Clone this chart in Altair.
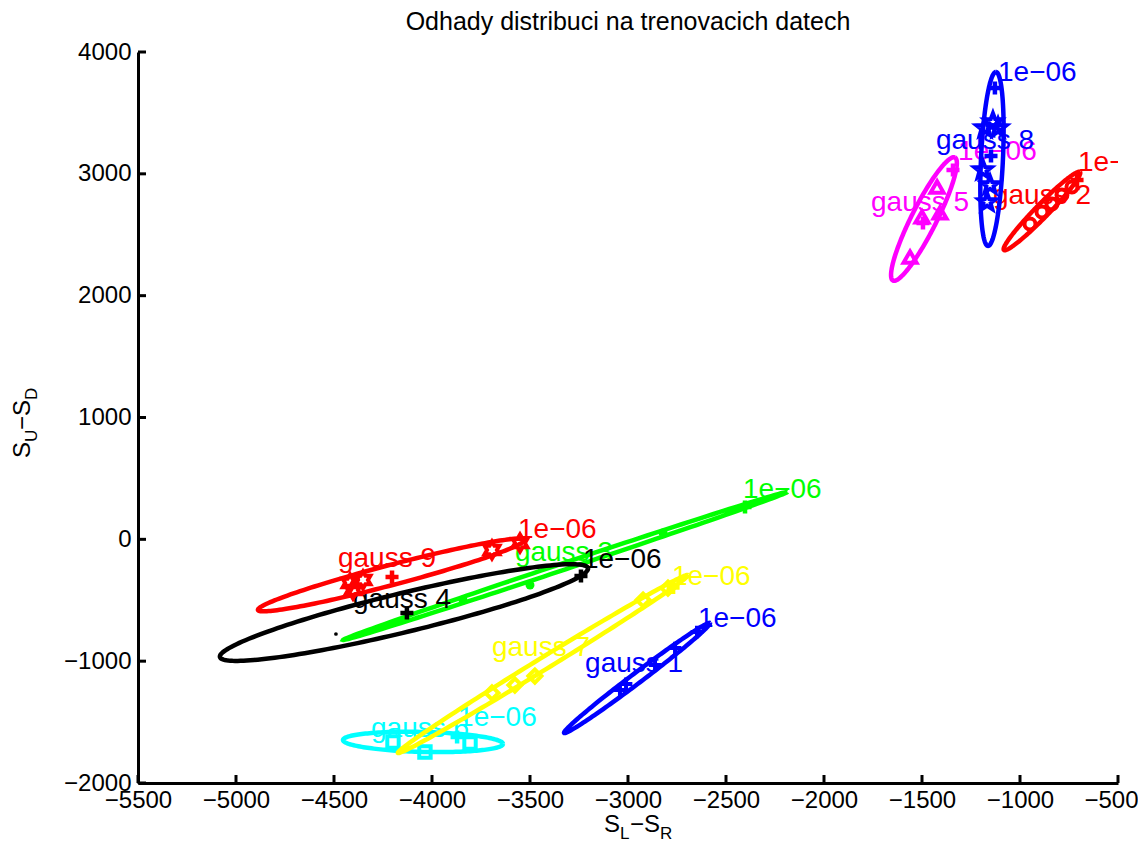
import altair as alt
import numpy as np
import pandas as pd

FONT = "Liberation Sans"
W, H = 980, 731

# ---------------- data ----------------
g_names = ["gauss 1", "gauss 2", "gauss 3", "gauss 4", "gauss 5",
           "gauss 6", "gauss 7", "gauss 8", "gauss 9"]
g_colors = ["#0000ff", "#ff0000", "#00ff00", "#000000", "#ff00ff",
            "#00ffff", "#ffff00", "#0000ff", "#ff0000"]

# ellipse: centre, major half-axis vector, minor half-axis vector (data units)
ell_cx = [-2954, -888, -3321, -4143, -1490, -4046, -3434, -1143, -4209]
ell_cy = [-1138, 2695, -219, -601, 2629, -1663, -1023, 3122, -293]
ell_ux = [372, 194, 1133, 939, 158, 408, 740, 20, 679]
ell_uy = [451, 320, 607, 365, 505, -16, 730, 714, 287]
ell_vx = [16, 24, 6, 23, 57, 0, 16, 56, 13]
ell_vy = [-34, -38, -25, -156, -46, -82, -42, 0, -80]

# training points of each gaussian
pt_x = [[-3041, -3010, -2862, -2760, -2648],
        [-949, -888, -837, -786, -735],
        [-3842, -3500, -2821],
        [-4490],
        [-1561, -1423, -1500, -1408],
        [-4199, -4036, -3806],
        [-3694, -3577, -3475, -2923, -2796],
        [-1138, -1179, -1112, -1189, -1153, -1168],
        [-4403, -4352, -4418, -3694, -3551]]
pt_y = [[-1237, -1187, -1031, -892, -761],
        [2588, 2687, 2752, 2826, 2892],
        [-498, -375, 52],
        [-777],
        [2317, 2892, 2646, 2679],
        [-1664, -1746, -1672],
        [-1261, -1196, -1122, -498, -400],
        [3425, 3376, 3376, 3031, 2908, 2769],
        [-416, -334, -358, -88, -30]]
pt_marker = ["plus", "circle", "dot", "dot", "triangle-up", "square",
             "diamond", "pentagram", "hexagram"]

# "+" markers
plus_x = [[], [-709], [-2403], [-4128, -3240], [-1495, -1342], [-3872],
          [-2770], [-1128, -1148], [-4204]]
plus_y = [[], [2949], [265], [-605, -301], [2596, 3031], [-1622],
          [-395], [3705, 3146], [-309]]

# text labels
lab_x = [-3219, -1138, -3577, -4403, -1760, -4311, -3694, -1429, -4480]
lab_y = [-1023, 2818, -112, -498, 2761, -1557, -892, 3269, -161]
lev_text = "1e\u221206"
lev_x = [-2643, -704, -2413, -3230, -1316, -3867, -2776, -1112, -3561]
lev_y = [-654, 3089, 405, -170, 3179, -1467, -309, 3828, 77]

x_ticks = list(range(-5500, -499, 500))
y_ticks = list(range(-2000, 4001, 1000))

TITLE = "Odhady distribuci na trenovacich datech"


# ---------------- marker shapes ----------------
def star_path(n, r_in):
    pts = []
    for k in range(2 * n):
        r = 1.0 if k % 2 == 0 else r_in
        a = -np.pi / 2 + k * np.pi / n
        pts.append(f"{r*np.cos(a):.3f},{r*np.sin(a):.3f}")
    return "M" + "L".join(pts) + "Z"


shape_map = {
    "plus": "M-1,0L1,0M0,-1L0,1",
    "circle": "circle",
    "triangle-up": "triangle-up",
    "square": "square",
    "diamond": "diamond",
    "pentagram": star_path(5, 0.42),
    "hexagram": star_path(6, 0.58),
}
size_map = {"plus": 160, "circle": 120, "triangle-up": 170, "square": 130,
            "diamond": 170, "pentagram": 320, "hexagram": 290}
dot_size = {"gauss 3": 80, "gauss 4": 14}

# ---------------- tables ----------------
t = np.linspace(0, 2 * np.pi, 181)
ell_rows = []
for i, g in enumerate(g_names):
    xs = ell_cx[i] + ell_ux[i] * np.cos(t) + ell_vx[i] * np.sin(t)
    ys = ell_cy[i] + ell_uy[i] * np.cos(t) + ell_vy[i] * np.sin(t)
    for k in range(len(t)):
        ell_rows.append({"g": g, "i": k, "x": float(xs[k]), "y": float(ys[k])})
ell_df = pd.DataFrame(ell_rows)

pt_df = pd.DataFrame([{"g": g, "x": x, "y": y}
                      for i, g in enumerate(g_names)
                      for x, y in zip(pt_x[i], pt_y[i])])
plus_df = pd.DataFrame([{"g": g, "x": x, "y": y}
                        for i, g in enumerate(g_names)
                        for x, y in zip(plus_x[i], plus_y[i])])
lab_df = pd.DataFrame([{"g": g, "x": lab_x[i], "y": lab_y[i], "txt": g}
                       for i, g in enumerate(g_names)]
                      + [{"g": g, "x": lev_x[i], "y": lev_y[i], "txt": lev_text}
                         for i, g in enumerate(g_names)])
xt_df = pd.DataFrame({"v": x_ticks})
yt_df = pd.DataFrame({"v": y_ticks})

# ---------------- scales / axes ----------------
XS = alt.Scale(domain=[-5500, -500], nice=False, zero=False)
YS = alt.Scale(domain=[-2000, 4000], nice=False, zero=False)
XA = alt.Axis(values=x_ticks, format="d", labelFont=FONT, labelFontSize=24,
              labelColor="black", labelPadding=5, labelFlush=False,
              labelOverlap=False, ticks=False, domainColor="black",
              domainWidth=3, grid=False, title="",
              labelOffset={"condition": {"test": "datum.value == -500",
                                         "value": -7},
                           "value": 0})
YA = alt.Axis(values=y_ticks, format="d", labelFont=FONT, labelFontSize=24,
              labelColor="black", labelPadding=7, labelFlush=False,
              labelOverlap=False, ticks=False, domainColor="black",
              domainWidth=3, grid=False, title="")


def X(f="x"):
    return alt.X(f"{f}:Q", scale=XS, axis=XA)


def Y(f="y"):
    return alt.Y(f"{f}:Q", scale=YS, axis=YA)


layers = []
for i, g in enumerate(g_names):
    col = g_colors[i]
    flt = alt.datum.g == g
    layers.append(
        alt.Chart(ell_df).transform_filter(flt)
        .mark_line(strokeWidth=4.5, clip=True)
        .encode(x=X(), y=Y(), order=alt.Order("i:Q"), color=alt.value(col))
    )
    m = pt_marker[i]
    if m == "dot":
        layers.append(
            alt.Chart(pt_df).transform_filter(flt)
            .mark_circle(size=dot_size[g], opacity=1)
            .encode(x=X(), y=Y(), color=alt.value(col))
        )
    else:
        layers.append(
            alt.Chart(pt_df).transform_filter(flt)
            .mark_point(shape=shape_map[m], size=size_map[m], filled=False,
                        strokeWidth=4, opacity=1)
            .encode(x=X(), y=Y(), color=alt.value(col))
        )
    if len(plus_x[i]) > 0:
        layers.append(
            alt.Chart(plus_df).transform_filter(flt)
            .mark_point(shape=shape_map["plus"], size=170, filled=False,
                        strokeWidth=4.5, opacity=1)
            .encode(x=X(), y=Y(), color=alt.value(col))
        )
    layers.append(
        alt.Chart(lab_df).transform_filter(flt)
        .mark_text(align="left", baseline="middle", font=FONT, fontSize=28,
                   clip=True)
        .encode(x=X(), y=Y(), text="txt:N", color=alt.value(col))
    )

# inward tick marks
layers.append(
    alt.Chart(xt_df).mark_rule(color="black", strokeWidth=3)
    .encode(x=X("v"), y=alt.value(H), y2=alt.value(H - 8))
)
layers.append(
    alt.Chart(yt_df).mark_rule(color="black", strokeWidth=3)
    .encode(y=Y("v"), x=alt.value(0), x2=alt.value(8))
)

# titles (axis titles with subscripts)
one = alt.Data(values=[{"k": 1}])


def piece(txt, px, py, size, angle=0, align="left"):
    return alt.Chart(one).mark_text(
        text=txt, font=FONT, fontSize=size, align=align,
        baseline="alphabetic", angle=angle, color="black"
    ).encode(x=alt.value(px), y=alt.value(py))


layers.append(piece(TITLE, W / 2, -22, 25, align="center"))

xb = 780
layers += [
    piece("S", 466, xb, 24),
    piece("L", 482, xb + 7, 17),
    piece("\u2212S", 492, xb, 24),
    piece("R", 522, xb + 7, 17),
]
yb = -108
layers += [
    piece("S", yb, 406, 24, 270),
    piece("U", yb + 7, 390, 17, 270),
    piece("\u2212S", yb, 378, 24, 270),
    piece("D", yb + 7, 348, 17, 270),
]

chart = alt.layer(*layers).properties(
    width=W, height=H,
    padding={"left": 130, "top": 44, "right": 20, "bottom": 62},
    autosize=alt.AutoSizeParams(type="none"),
).configure_view(strokeOpacity=0)

chart.save("out.html", embed_options={"renderer": "svg", "actions": False})
